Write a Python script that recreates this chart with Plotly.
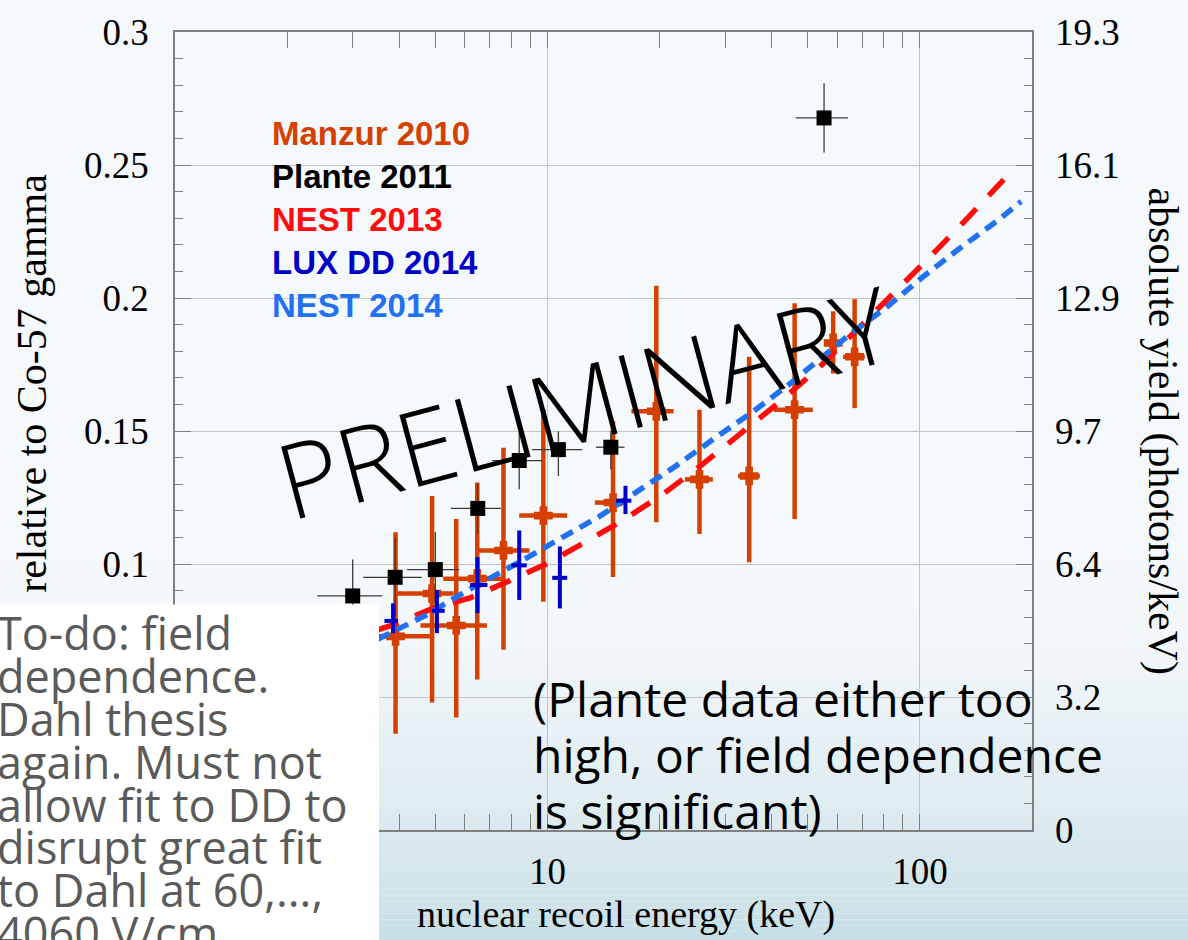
import plotly.graph_objects as go

# ---------------- data ----------------
# Manzur 2010 (relative scintillation efficiency vs nuclear recoil energy)
manzur_e = [3.91, 4.90, 5.69, 6.48, 7.62, 9.75, 15.0, 19.6, 25.6, 34.8, 46.1, 58.5, 66.8]
manzur_y = [0.0728, 0.0889, 0.0769, 0.0945, 0.1051, 0.1182, 0.1231, 0.1574, 0.1318, 0.1331, 0.1580, 0.1831, 0.1779]
manzur_e_lo = [3.15, 3.94, 4.56, 5.25, 6.47, 8.40, 13.4, 16.8, 23.4, 32.5, 40.5, 56.1, 62.2]
manzur_e_hi = [4.85, 5.60, 6.88, 7.60, 8.95, 11.3, 16.2, 21.8, 27.8, 37.2, 51.6, 61.0, 71.1]
manzur_y_lo = [0.0362, 0.0479, 0.0423, 0.0566, 0.0678, 0.0858, 0.0951, 0.1157, 0.1113, 0.1007, 0.1169, 0.1716, 0.1586]
manzur_y_hi = [0.1119, 0.1256, 0.1169, 0.1306, 0.1437, 0.1582, 0.1537, 0.2046, 0.1580, 0.1779, 0.1980, 0.1950, 0.1996]

# Plante 2011
plante_e = [3.0, 3.9, 5.0, 6.5, 8.4, 10.7, 14.8, 55.3]
plante_y = [0.0880, 0.0950, 0.0979, 0.1209, 0.1389, 0.1430, 0.1439, 0.2677]
plante_e_lo = [2.41, 3.2, 4.2, 5.5, 7.1, 9.1, 13.5, 46.4]
plante_e_hi = [3.6, 4.6, 5.8, 7.5, 9.7, 12.4, 16.1, 64.1]
plante_y_lo = [0.0743, 0.0800, 0.0840, 0.1113, 0.1281, 0.1331, 0.1356, 0.2547]
plante_y_hi = [0.1017, 0.1100, 0.1120, 0.1300, 0.1499, 0.1499, 0.1500, 0.2807]

# LUX DD 2014
lux_e = [3.85, 5.05, 6.49, 8.4, 10.8, 16.2]
lux_y = [0.0786, 0.0824, 0.0921, 0.0995, 0.0948, 0.1238]
lux_e_lo = [3.65, 4.9, 6.2, 8.0, 10.3, 15.3]
lux_e_hi = [3.97, 5.3, 6.9, 8.8, 11.3, 16.8]
lux_y_lo = [0.0740, 0.0740, 0.0815, 0.0865, 0.0833, 0.1188]
lux_y_hi = [0.0852, 0.0902, 0.1026, 0.1126, 0.1066, 0.1294]

# NEST 2013 model curve
nest13_e = [3.5, 3.87, 4.9, 6.2, 7.8, 9.96, 12.5, 15.9, 20.4, 25.6, 32.3, 41.0, 52.5, 65.5, 83.8, 105, 132.5, 168, 180]
nest13_y = [0.0752, 0.0772, 0.0832, 0.0873, 0.0933, 0.1001, 0.1079, 0.1163, 0.1262, 0.1366, 0.1480, 0.1597,
            0.1726, 0.1860, 0.2005, 0.2146, 0.2292, 0.2447, 0.2490]

# NEST 2014 model curve
nest14_e = [3.5, 4.2, 4.74, 6.05, 7.62, 8.58, 10.9, 13.8, 17.4, 22.1, 27.8, 35.5, 44.9, 64.7, 81.3, 102, 128, 162, 187]
nest14_y = [0.0717, 0.0771, 0.0809, 0.0898, 0.0974, 0.1014, 0.1098, 0.1179, 0.1272, 0.1368, 0.1468, 0.1571,
            0.1679, 0.1862, 0.1965, 0.2080, 0.2187, 0.2292, 0.2363]

# axis ticks
x_tick_vals = [1, 10, 100]
x_tick_text = ["1", "10", "100"]
y_tick_vals = [0, 0.05, 0.1, 0.15, 0.2, 0.25, 0.3]
y_tick_text = ["0", "0.05", "0.1", "0.15", "0.2", "0.25", "0.3"]
y2_tick_text = ["0", "3.2", "6.4", "9.7", "12.9", "16.1", "19.3"]

legend_labels = ["Manzur 2010", "Plante 2011", "NEST 2013", "LUX DD 2014", "NEST 2014"]
todo_lines = ["To-do: field", "dependence.", "Dahl thesis", "again. Must not", "allow fit to DD to",
              "disrupt great fit", "to Dahl at 60,...,", "4060 V/cm"]
note_lines = ["(Plante data either too", "high, or field dependence", "is significant)"]

# ---------------- style ----------------
C_MANZUR = "#D54000"
C_PLANTE = "#000000"
C_NEST13 = "#FF0D0D"
C_LUX = "#0000C8"
C_NEST14 = "#2271F0"
AX_COLOR = "#808080"
GRID = "#C4C4C4"
SERIF = "Liberation Serif"
SANS = "Liberation Sans"

W, H = 1188, 940
ML, MR, MT, MB = 175, 156, 27, 110
PW, PH = W - ML - MR, H - MT - MB


def px(x):
    return (x - ML) / PW


def py(y):
    return (H - MB - y) / PH


def err(vals, lo, hi):
    return dict(type="data", symmetric=False,
                array=[h - v for v, h in zip(vals, hi)],
                arrayminus=[v - l for v, l in zip(vals, lo)])


fig = go.Figure()

fig.add_trace(go.Scatter(
    x=manzur_e, y=manzur_y, mode="markers",
    marker=dict(symbol="cross", size=14, color=C_MANZUR, line=dict(width=2, color=C_MANZUR)),
    error_x=dict(**err(manzur_e, manzur_e_lo, manzur_e_hi), color=C_MANZUR, thickness=4.5, width=0),
    error_y=dict(**err(manzur_y, manzur_y_lo, manzur_y_hi), color=C_MANZUR, thickness=4.5, width=0),
))

fig.add_trace(go.Scatter(
    x=nest13_e, y=nest13_y, mode="lines",
    line=dict(color=C_NEST13, width=5.5, dash="22px,18px"),
))

fig.add_trace(go.Scatter(
    x=nest14_e, y=nest14_y, mode="lines",
    line=dict(color=C_NEST14, width=5.5, dash="13px,8px"),
))

fig.add_trace(go.Scatter(
    x=plante_e, y=plante_y, mode="markers",
    marker=dict(symbol="square", size=15, color=C_PLANTE),
    error_x=dict(**err(plante_e, plante_e_lo, plante_e_hi), color="#3A3A3A", thickness=1.3, width=0),
    error_y=dict(**err(plante_y, plante_y_lo, plante_y_hi), color="#3A3A3A", thickness=1.3, width=0),
))

fig.add_trace(go.Scatter(
    x=lux_e, y=lux_y, mode="markers",
    marker=dict(size=2, color=C_LUX, opacity=0),
    error_x=dict(**err(lux_e, lux_e_lo, lux_e_hi), color=C_LUX, thickness=4, width=0),
    error_y=dict(**err(lux_y, lux_y_lo, lux_y_hi), color=C_LUX, thickness=4, width=0),
))

# empty trace to register the right-hand axis
fig.add_trace(go.Scatter(x=[], y=[], yaxis="y2", showlegend=False))

# ---------------- background ----------------
bg_stops = [(0, (245, 249, 252)), (600, (244, 248, 251)), (660, (240, 246, 249)), (720, (233, 242, 246)),
            (780, (226, 238, 242)), (840, (218, 233, 238)), (900, (208, 227, 233)), (940, (198, 222, 229))]


def bg_color(yy):
    for (y0, c0), (y1, c1) in zip(bg_stops[:-1], bg_stops[1:]):
        if y0 <= yy <= y1:
            t = (yy - y0) / (y1 - y0)
            return "rgb(%d,%d,%d)" % tuple(round(a + (b - a) * t) for a, b in zip(c0, c1))
    return "rgb(%d,%d,%d)" % bg_stops[-1][1]


shapes = []
step = 6
for yy in range(560, 946, step):
    shapes.append(dict(type="rect", xref="paper", yref="paper", layer="below",
                       x0=px(-10), x1=px(W + 10), y0=py(yy + step), y1=py(yy),
                       fillcolor=bg_color(yy + step / 2), line=dict(width=0)))

# white note panel over the lower-left corner
shapes.append(dict(type="rect", xref="paper", yref="paper", layer="above",
                   x0=px(-10), x1=px(379), y0=py(950), y1=py(603),
                   fillcolor="#FFFFFF", line=dict(width=0)))

# ---------------- annotations ----------------
ann = []
legend_colors = [C_MANZUR, C_PLANTE, C_NEST13, C_LUX, C_NEST14]
legend_y = [129.3, 172.6, 215.9, 258.6, 301.9]
for lab, col, yy in zip(legend_labels, legend_colors, legend_y):
    ann.append(dict(text="<b>%s</b>" % lab, x=px(270), y=py(yy), xref="paper", yref="paper",
                    xanchor="left", yanchor="middle", showarrow=False,
                    font=dict(family=SANS, size=33, color=col)))

for i, line in enumerate(todo_lines):
    ann.append(dict(text=line, x=px(-5), y=py(631.5 + 43.1 * i), xref="paper", yref="paper",
                    xanchor="left", yanchor="middle", showarrow=False,
                    font=dict(family="Open Sans", size=45, color="#5A5A5A")))

for i, line in enumerate(note_lines):
    ann.append(dict(text=line, x=px(531), y=py(698 + 56 * i), xref="paper", yref="paper",
                    xanchor="left", yanchor="middle", showarrow=False,
                    font=dict(family="Open Sans", size=48, color="#000000")))

ann.append(dict(text="PRELIMINARY", x=px(584), y=py(398), xref="paper", yref="paper",
                xanchor="center", yanchor="middle", showarrow=False, textangle=-15,
                font=dict(family="Open Sans", size=104, color="#000000", weight=300)))

# axis titles
ann.append(dict(text="nuclear recoil energy (keV)", x=px(625.5), y=py(915), xref="paper", yref="paper",
                xanchor="center", yanchor="middle", showarrow=False,
                font=dict(family=SERIF, size=38, color="#000000")))
ann.append(dict(text="relative to Co-57 gamma", x=px(32), y=py(381), xref="paper", yref="paper",
                xanchor="center", yanchor="middle", showarrow=False, textangle=-90,
                font=dict(family=SERIF, size=42, color="#000000")))
ann.append(dict(text="absolute yield (photons/keV)", x=px(1163), y=py(429), xref="paper", yref="paper",
                xanchor="center", yanchor="middle", showarrow=False, textangle=90,
                font=dict(family=SERIF, size=42, color="#000000")))

x_minor = [k * 10 ** d for d in (0, 1, 2) for k in range(2, 10) if k * 10 ** d <= 200]

fig.update_layout(
    width=W, height=H, autosize=False,
    margin=dict(l=ML, r=MR, t=MT, b=MB, pad=0),
    paper_bgcolor="rgb(245,249,252)", plot_bgcolor="rgba(0,0,0,0)",
    showlegend=False,
    shapes=shapes, annotations=ann,
    xaxis=dict(type="log", range=[0, 2.30103],
               tickmode="array", tickvals=x_tick_vals, ticktext=x_tick_text,
               ticks="inside", ticklen=16, tickwidth=1, tickcolor=AX_COLOR,
               minor=dict(tickvals=x_minor, ticks="inside", ticklen=8, tickwidth=1, tickcolor=AX_COLOR,
                          showgrid=False),
               showline=True, linecolor=AX_COLOR, linewidth=1.5, mirror="allticks",
               showgrid=True, gridcolor=GRID, gridwidth=1, zeroline=False,
               tickfont=dict(family=SERIF, size=37, color="#000000"), ticklabelstandoff=8),
    yaxis=dict(range=[0, 0.3],
               tickmode="array", tickvals=y_tick_vals, ticktext=y_tick_text,
               ticks="inside", ticklen=16, tickwidth=1, tickcolor=AX_COLOR,
               minor=dict(dtick=0.01, ticks="inside", ticklen=8, tickwidth=1, tickcolor=AX_COLOR,
                          showgrid=False),
               showline=True, linecolor=AX_COLOR, linewidth=1.5, mirror="allticks",
               showgrid=True, gridcolor=GRID, gridwidth=1, zeroline=False,
               tickfont=dict(family=SERIF, size=37, color="#000000"), ticklabelstandoff=17),
    yaxis2=dict(range=[0, 0.3], overlaying="y", side="right", anchor="x",
                tickmode="array", tickvals=y_tick_vals, ticktext=y2_tick_text,
                ticks="", showline=False, showgrid=False, zeroline=False,
                tickfont=dict(family=SERIF, size=37, color="#000000"), ticklabelstandoff=22),
)

fig.write_html("out.html")
